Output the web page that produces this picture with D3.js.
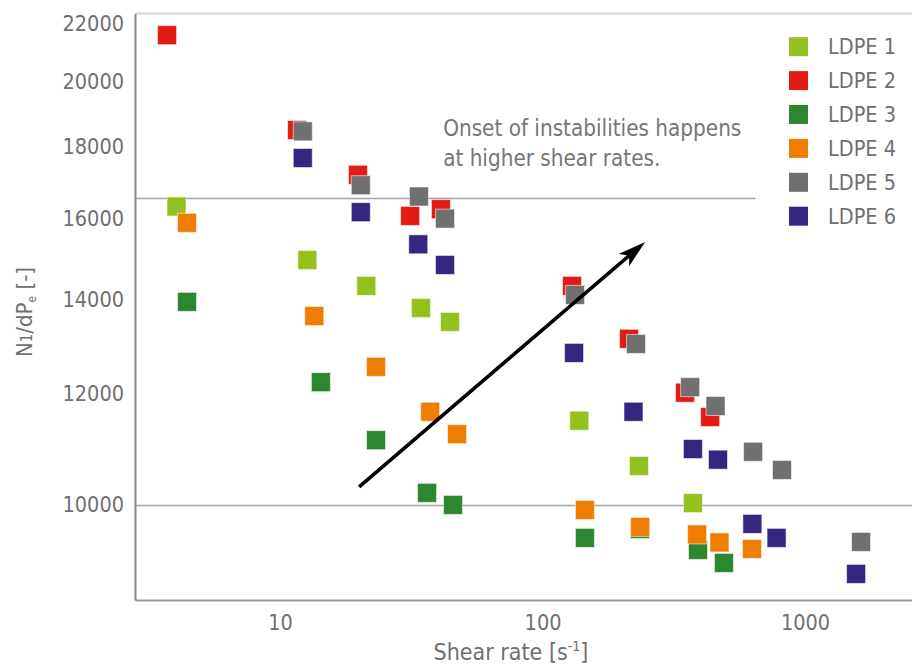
<!DOCTYPE html>
<html>
<head>
<meta charset="utf-8">
<script src="https://cdn.jsdelivr.net/npm/d3@7"></script>
<style>
  html, body { margin: 0; padding: 0; background: #fff; }
  svg { display: block; }
  text { font-family: "DejaVu Sans Condensed", "DejaVu Sans", sans-serif; font-stretch: condensed; }
</style>
</head>
<body>
<svg id="chart" width="912" height="668"></svg>
<script>
// ---------------- data ----------------
const seriesNames = ["LDPE 1", "LDPE 2", "LDPE 3", "LDPE 4", "LDPE 5", "LDPE 6"];

const ldpe1Shear = [4.03, 12.7, 21.3, 34.4, 44.4, 138, 233, 374];
const ldpe1N1    = [16310, 14940, 14320, 13810, 13500, 11480, 10660, 10030];

const ldpe2Shear = [3.71, 11.6, 19.8, 31.3, 41.0, 129.5, 213.5, 349, 435];
const ldpe2N1    = [21600, 18490, 17180, 16060, 16240, 14320, 13130, 12020, 11550];

const ldpe3Shear = [4.42, 14.3, 23.2, 36.3, 45.6, 145, 235, 391, 491];
const ldpe3N1    = [13950, 12230, 11120, 10200, 10000, 9474, 9614, 9289, 9093];

const ldpe4Shear = [4.42, 13.5, 23.2, 37.3, 47.2, 145, 235.5, 388, 472, 628];
const ldpe4N1    = [15880, 13630, 12540, 11650, 11230, 9918, 9646, 9528, 9404, 9304];

const ldpe5Shear = [12.2, 20.3, 33.8, 42.5, 133, 227, 365, 456, 634, 817, 1635];
const ldpe5N1    = [18450, 16890, 16580, 15990, 14110, 13020, 12130, 11760, 10910, 10590, 9412];

const ldpe6Shear = [12.2, 20.3, 33.6, 42.5, 131.8, 222, 374, 466, 630, 779, 1565];
const ldpe6N1    = [17660, 16160, 15330, 14820, 12830, 11650, 10960, 10770, 9694, 9474, 8931];

const xTickValues = [10, 100, 1000];
const yTickValues = [10000, 12000, 14000, 16000, 18000, 20000, 22000];

// reference lines: [N1 value, shear where line ends]
const refLineN1  = [10000, 16540];
const refLineEnd = [2556, 646];

// arrow annotation (data coords)
const arrowShear = [20.0, 246];
const arrowN1    = [10300, 15390];
const noteLines  = ["Onset of instabilities happens", "at higher shear rates."];

// ---------------- styles ----------------
const colors = ["#95c11f", "#e31b14", "#2e8630", "#ef7d00", "#707070", "#35277f"];
const textColor = "#6f6f6f";

const shearSets = [ldpe1Shear, ldpe2Shear, ldpe3Shear, ldpe4Shear, ldpe5Shear, ldpe6Shear];
const n1Sets    = [ldpe1N1, ldpe2N1, ldpe3N1, ldpe4N1, ldpe5N1, ldpe6N1];
const series = seriesNames.map((name, i) => ({
  name, color: colors[i],
  points: shearSets[i].map((s, j) => ({ x: s, y: n1Sets[i][j] }))
}));

// ---------------- layout ----------------
const svg = d3.select("#chart");
const pL = 135, pR = 912, pT = 13.5, pB = 600;

const x = d3.scaleLog().domain([2.8, 2556]).range([pL, pR]);
const y = d3.scaleLog().domain([8557, 22380]).range([pB, pT]);

svg.append("rect").attr("width", 912).attr("height", 668).attr("fill", "#fff");

// top border
svg.append("line")
  .attr("x1", pL).attr("x2", pR).attr("y1", pT).attr("y2", pT)
  .attr("stroke", "#d3d3d3").attr("stroke-width", 2);

// reference lines
svg.append("g").selectAll("line").data(refLineN1).join("line")
  .attr("x1", pL)
  .attr("x2", (d, i) => x(refLineEnd[i]))
  .attr("y1", d => Math.round(y(d)) + 0.5)
  .attr("y2", d => Math.round(y(d)) + 0.5)
  .attr("stroke", "#a3a3a3").attr("stroke-width", 1.3);

// axes
const fs = 21.5;
const ff = '"DejaVu Sans Condensed", "DejaVu Sans", sans-serif';
const xAxis = svg.append("g").attr("transform", `translate(0,${pB})`)
  .call(d3.axisBottom(x).tickValues(xTickValues).tickFormat(d3.format("d")).tickSize(0).tickPadding(14.5));
xAxis.select(".domain").attr("stroke", "#9a9a9a").attr("stroke-width", 2);
xAxis.selectAll("text").attr("font-size", fs).attr("fill", textColor).style("font-family", ff);

const yAxis = svg.append("g").attr("transform", `translate(${pL},0)`)
  .call(d3.axisLeft(y).tickValues(yTickValues).tickFormat(d3.format("d")).tickSize(0).tickPadding(11));
yAxis.select(".domain").attr("stroke", "#858585").attr("stroke-width", 2);
yAxis.selectAll("text").attr("font-size", fs).attr("fill", textColor).style("font-family", ff);

// axis titles
const xt = svg.append("text").attr("x", 511).attr("y", 660)
  .attr("text-anchor", "middle").attr("font-size", 23).attr("fill", textColor);
xt.append("tspan").text("Shear rate [s");
xt.append("tspan").attr("font-size", 14).attr("dy", -9).text("-1");
xt.append("tspan").attr("dy", 9).text("]");

const yt = svg.append("text").attr("transform", "translate(32,312) rotate(-90)")
  .attr("text-anchor", "middle").attr("font-size", 22).attr("fill", textColor);
yt.append("tspan").text("N");
yt.append("tspan").attr("font-size", 15).text("1");
yt.append("tspan").text("/dP");
yt.append("tspan").attr("font-size", 12).attr("dy", 4).text("e");
yt.append("tspan").attr("dy", -4).text(" [-]");

// points
const size = 19;
svg.append("g").selectAll("g").data(series).join("g")
  .attr("fill", d => d.color)
  .selectAll("rect").data(d => d.points).join("rect")
  .attr("x", d => x(d.x) - size / 2)
  .attr("y", d => y(d.y) - size / 2)
  .attr("width", size).attr("height", size)
  .attr("stroke", "rgba(255,255,255,0.55)").attr("stroke-width", 1);

// arrow
const ax0 = x(arrowShear[0]), ay0 = y(arrowN1[0]);
const ax1 = x(arrowShear[1]), ay1 = y(arrowN1[1]);
const ang = Math.atan2(ay1 - ay0, ax1 - ax0);
const ux = Math.cos(ang), uy = Math.sin(ang);
svg.append("line")
  .attr("x1", ax0).attr("y1", ay0)
  .attr("x2", ax1 - ux * 20).attr("y2", ay1 - uy * 20)
  .attr("stroke", "#000").attr("stroke-width", 3.6);
const headLen = 28, headW = 8, notch = 21;
const nx = -uy, ny = ux;
const headPts = [
  [ax1, ay1],
  [ax1 - ux * headLen + nx * headW, ay1 - uy * headLen + ny * headW],
  [ax1 - ux * notch, ay1 - uy * notch],
  [ax1 - ux * headLen - nx * headW, ay1 - uy * headLen - ny * headW]
];
svg.append("path").attr("d", "M" + headPts.map(p => p.join(",")).join("L") + "Z").attr("fill", "#000");

// note text
svg.append("g").selectAll("text").data(noteLines).join("text")
  .attr("x", x(41.8))
  .attr("y", (d, i) => 136 + i * 30)
  .attr("font-size", 22.3).attr("fill", "#767676")
  .text(d => d);

// legend
const lg = svg.append("g").selectAll("g").data(series).join("g")
  .attr("transform", (d, i) => `translate(789,${46.7 + i * 33.9})`);
lg.append("rect").attr("x", 0).attr("y", -9.5).attr("width", 19).attr("height", 19)
  .attr("fill", d => d.color);
lg.append("text").attr("x", 39).attr("dy", "0.35em").attr("font-size", fs)
  .attr("fill", textColor).text(d => d.name);
</script>
</body>
</html>
